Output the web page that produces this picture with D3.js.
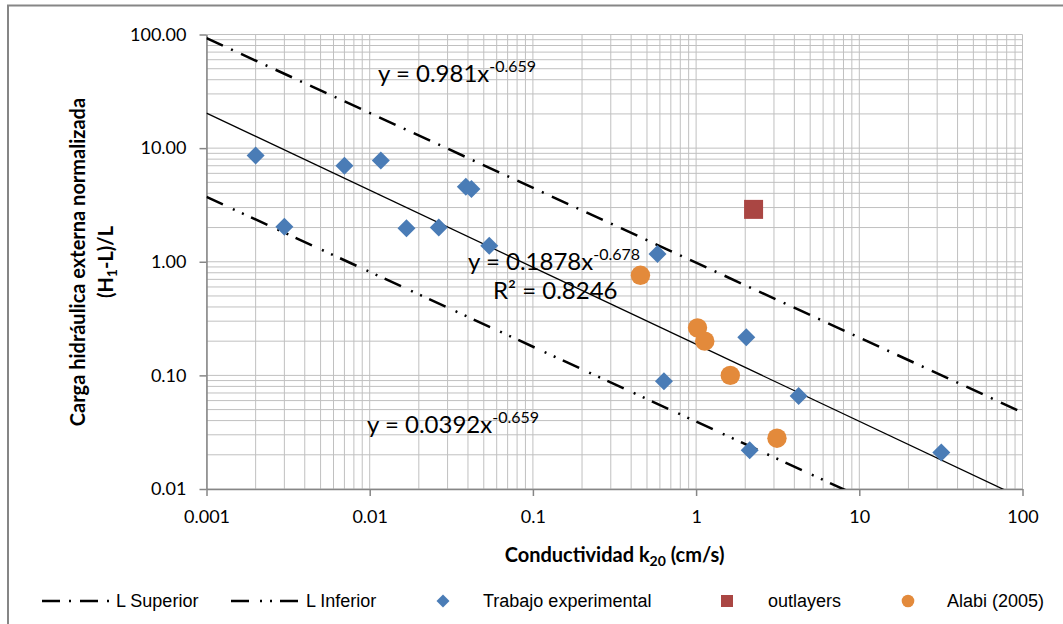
<!DOCTYPE html>
<html>
<head>
<meta charset="utf-8">
<script src="https://cdn.jsdelivr.net/npm/d3@7"></script>
<style>
  body { margin: 0; background: #fff; }
  svg { display: block; }
</style>
</head>
<body>
<script>
const WIDTH = 1063;
const HEIGHT = 624;

// Datos: conductividad k20 (cm/s) vs carga hidráulica normalizada
const trabajoK = [0.002, 0.003, 0.007, 0.0117, 0.0168, 0.0265, 0.0388, 0.042, 0.054, 0.58, 0.635, 2.03, 4.25, 2.13, 31.8];
const trabajoH = [8.6, 2.03, 7.0, 7.8, 1.97, 2.0, 4.57, 4.37, 1.38, 1.17, 0.089, 0.217, 0.066, 0.0219, 0.021];
const outlayersK = [2.25];
const outlayersH = [2.89];
const alabiK = [0.456, 1.02, 1.13, 1.62, 3.13];
const alabiH = [0.76, 0.262, 0.2, 0.1, 0.028];

// Rectas potenciales y = a x^b (superior, ajuste, inferior)
const rectaNombres = ["L Superior", "Ajuste", "L Inferior"];
const rectaCoef = [0.981, 0.1878, 0.0392];
const rectaExp = [-0.659, -0.678, -0.659];

// Ticks de los ejes
const xTicks = [0.001, 0.01, 0.1, 1, 10, 100];
const xTickLabels = ["0.001", "0.01", "0.1", "1", "10", "100"];
const yTicks = [0.01, 0.1, 1, 10, 100];
const yTickLabels = ["0.01", "0.10", "1.00", "10.00", "100.00"];

const GRIS_GRID = "#c0c0c0";
const GRIS_EJE = "#868686";
const AZUL = "#4a7cb6";
const ROJO = "#aa4643";
const NARANJA = "#e38a3b";

const svg = d3.select("body").append("svg")
  .attr("width", WIDTH)
  .attr("height", HEIGHT);

// Marco del gráfico
svg.append("rect")
  .attr("x", 8).attr("y", 5.5)
  .attr("width", 1200).attr("height", 800)
  .attr("fill", "#fff")
  .attr("stroke", GRIS_EJE)
  .attr("stroke-width", 2);

const izq = 206.5, der = 1022.5, arriba = 34.5, abajo = 489;

const x = d3.scaleLog().domain([0.001, 100]).range([izq, der]);
const y = d3.scaleLog().domain([0.01, 100]).range([abajo, arriba]);

// Grilla mayor y menor
const grid = svg.append("g");
grid.selectAll("line.v")
  .data(x.ticks())
  .join("line")
  .attr("x1", d => x(d)).attr("x2", d => x(d))
  .attr("y1", arriba).attr("y2", abajo)
  .attr("stroke", GRIS_GRID).attr("stroke-width", 1);
grid.selectAll("line.h")
  .data(y.ticks())
  .join("line")
  .attr("x1", izq).attr("x2", der)
  .attr("y1", d => y(d)).attr("y2", d => y(d))
  .attr("stroke", GRIS_GRID).attr("stroke-width", 1);

// Ejes
const ejeY = svg.append("g")
  .attr("transform", `translate(${izq},0)`)
  .call(d3.axisLeft(y).tickValues(yTicks)
    .tickFormat((d, i) => yTickLabels[i])
    .tickSizeInner(7).tickSizeOuter(0).tickPadding(13));
const ejeX = svg.append("g")
  .attr("transform", `translate(0,${abajo})`)
  .call(d3.axisBottom(x).tickValues(xTicks)
    .tickFormat((d, i) => xTickLabels[i])
    .tickSizeInner(7).tickSizeOuter(0).tickPadding(14));

[ejeY, ejeX].forEach(eje => {
  eje.select(".domain").attr("stroke", GRIS_EJE).attr("stroke-width", 1.5);
  eje.selectAll(".tick line").attr("stroke", GRIS_EJE).attr("stroke-width", 1.5);
  eje.selectAll("text")
    .attr("font-family", "Lato, sans-serif")
    .attr("font-size", 18)
    .attr("fill", "#000");
});

// Rectas, recortadas al área de trazado
svg.append("clipPath").attr("id", "area")
  .append("rect")
  .attr("x", izq).attr("y", arriba)
  .attr("width", der - izq).attr("height", abajo - arriba);

const estilos = [
  { dash: "18,9,2,9", ancho: 2.5 },
  { dash: null, ancho: 1.3 },
  { dash: "18,11,2,8,2,8", ancho: 2.5 }
];

const linea = d3.line().x(d => x(d[0])).y(d => y(d[1]));
const rectas = rectaCoef.map((a, i) => {
  const [x0, x1] = x.domain();
  return [[x0, a * Math.pow(x0, rectaExp[i])], [x1, a * Math.pow(x1, rectaExp[i])]];
});

svg.append("g").attr("clip-path", "url(#area)")
  .selectAll("path")
  .data(rectas)
  .join("path")
  .attr("d", linea)
  .attr("fill", "none")
  .attr("stroke", "#000")
  .attr("stroke-width", (d, i) => estilos[i].ancho)
  .attr("stroke-dasharray", (d, i) => estilos[i].dash);

// Puntos
const diamante = d3.symbol().type(d3.symbolSquare).size(162);

svg.append("g")
  .selectAll("path")
  .data(d3.zip(trabajoK, trabajoH))
  .join("path")
  .attr("d", diamante)
  .attr("transform", d => `translate(${x(d[0])},${y(d[1])}) rotate(45)`)
  .attr("fill", AZUL);

svg.append("g")
  .selectAll("rect")
  .data(d3.zip(outlayersK, outlayersH))
  .join("rect")
  .attr("x", d => x(d[0]) - 9.5)
  .attr("y", d => y(d[1]) - 9.5)
  .attr("width", 19).attr("height", 19)
  .attr("fill", ROJO);

svg.append("g")
  .selectAll("circle")
  .data(d3.zip(alabiK, alabiH))
  .join("circle")
  .attr("cx", d => x(d[0]))
  .attr("cy", d => y(d[1]))
  .attr("r", 9.7)
  .attr("fill", NARANJA);

// Ecuaciones de las rectas
function ecuacion(px, py, i) {
  const t = svg.append("text")
    .attr("x", px).attr("y", py)
    .attr("font-family", "Lato, sans-serif")
    .attr("font-size", 24)
    .attr("fill", "#000");
  t.append("tspan").text(`y = ${rectaCoef[i]}x`);
  t.append("tspan").attr("dy", -10).attr("font-size", 16).text(`${rectaExp[i]}`);
}
ecuacion(378, 82, 0);
ecuacion(468, 270, 1);
ecuacion(367, 433, 2);

svg.append("text")
  .attr("x", 493).attr("y", 299)
  .attr("font-family", "Lato, sans-serif")
  .attr("font-size", 24)
  .text("R² = 0.8246");

// Títulos de los ejes
const tituloX = svg.append("text")
  .attr("x", (izq + der) / 2).attr("y", 562)
  .attr("text-anchor", "middle")
  .attr("font-family", "Lato, sans-serif")
  .attr("font-weight", "bold")
  .attr("font-size", 20);
tituloX.append("tspan").text("Conductividad k");
tituloX.append("tspan").attr("font-size", 14).attr("dy", 4).text("20");
tituloX.append("tspan").attr("dy", -4).text(" (cm/s)");

const tituloY = svg.append("text")
  .attr("transform", "translate(0,262) rotate(-90)")
  .attr("text-anchor", "middle")
  .attr("font-family", "Lato, sans-serif")
  .attr("font-weight", "bold")
  .attr("font-size", 20);
tituloY.append("tspan").attr("x", 0).attr("y", 85)
  .text("Carga hidráulica externa normalizada");
const linea2 = tituloY.append("tspan").attr("x", 0).attr("y", 113);
linea2.append("tspan").text("(H");
linea2.append("tspan").attr("font-size", 14).attr("dy", 4).text("1");
linea2.append("tspan").attr("dy", -4).text("-L)/L");

// Leyenda
const leyY = 601;
const ley = svg.append("g")
  .attr("font-family", "Arial, 'Liberation Sans', sans-serif")
  .attr("font-size", 18)
  .attr("fill", "#000");

ley.append("line")
  .attr("x1", 42).attr("x2", 110).attr("y1", leyY).attr("y2", leyY)
  .attr("stroke", "#000").attr("stroke-width", 2.5)
  .attr("stroke-dasharray", estilos[0].dash);
ley.append("text").attr("x", 116).attr("y", leyY).attr("dy", "0.35em").text(rectaNombres[0]);

ley.append("line")
  .attr("x1", 231).attr("x2", 298).attr("y1", leyY).attr("y2", leyY)
  .attr("stroke", "#000").attr("stroke-width", 2.5)
  .attr("stroke-dasharray", estilos[2].dash);
ley.append("text").attr("x", 306).attr("y", leyY).attr("dy", "0.35em").text(rectaNombres[2]);

ley.append("path")
  .attr("d", d3.symbol().type(d3.symbolSquare).size(84))
  .attr("transform", `translate(443,${leyY}) rotate(45)`)
  .attr("fill", AZUL);
ley.append("text").attr("x", 483).attr("y", leyY).attr("dy", "0.35em").text("Trabajo experimental");

ley.append("rect")
  .attr("x", 721).attr("y", leyY - 6).attr("width", 12).attr("height", 12)
  .attr("fill", ROJO);
ley.append("text").attr("x", 768).attr("y", leyY).attr("dy", "0.35em").text("outlayers");

ley.append("circle")
  .attr("cx", 908).attr("cy", leyY).attr("r", 6.3)
  .attr("fill", NARANJA);
ley.append("text").attr("x", 947).attr("y", leyY).attr("dy", "0.35em").text("Alabi (2005)");
</script>
</body>
</html>
